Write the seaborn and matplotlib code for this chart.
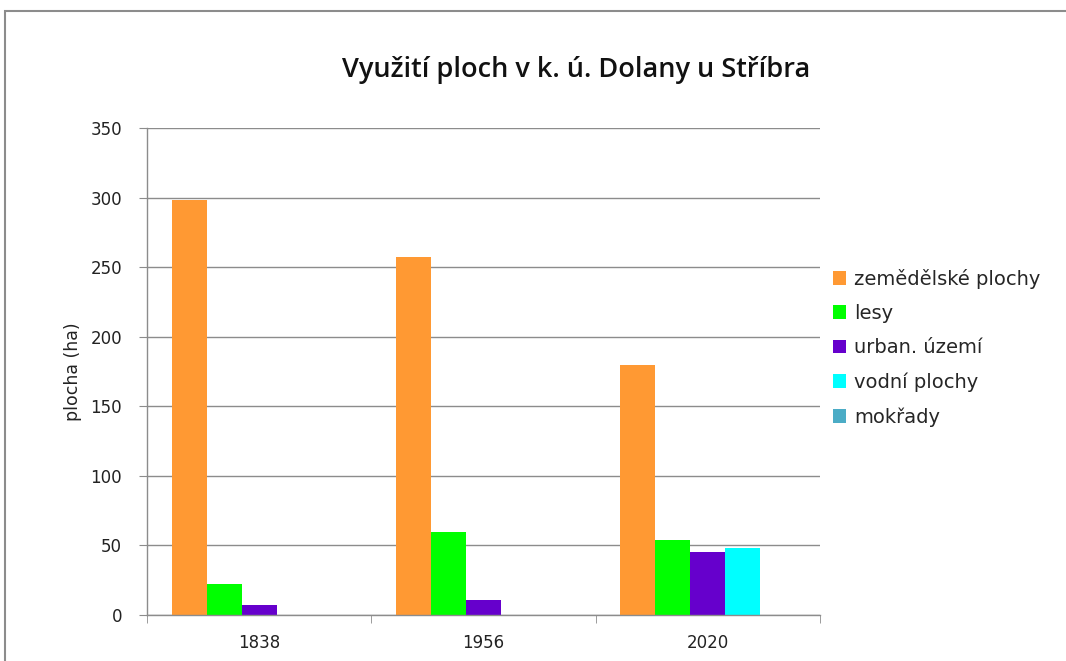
import matplotlib
matplotlib.use("Agg")
import matplotlib.pyplot as plt
import matplotlib.patches as mpatches
import seaborn as sns
import pandas as pd

# values
years = ["1838", "1956", "2020"]
categories = ["zemědělské plochy", "lesy", "urban. území", "vodní plochy", "mokřady"]
zemedelske = [298, 257, 180]
lesy = [22, 60, 54]
urban = [7, 11, 45]
vodni = [0, 0, 48]
mokrady = [0, 0, 0]
colors = ["#FF9933", "#00FF00", "#6600CC", "#00FFFF", "#4BACC6"]

series = [zemedelske, lesy, urban, vodni, mokrady]
rows = []
for cat, vals in zip(categories, series):
    for year, v in zip(years, vals):
        rows.append({"rok": year, "typ": cat, "plocha": v})
df = pd.DataFrame(rows)

sns.set_style("white")
plt.rcParams["font.family"] = ["DejaVu Sans"]

fig = plt.figure(figsize=(10.66, 6.61), dpi=100)
ax = fig.add_axes([0.1379, 0.0696, 0.6311, 0.7368])

sns.barplot(data=df, x="rok", y="plocha", hue="typ", hue_order=categories,
            palette=colors, width=0.78, saturation=1, linewidth=0,
            ax=ax, legend=False)

ax.set_ylim(0, 350)
ax.set_xlim(-0.5, 2.5)
ax.set_yticks(range(0, 351, 50))
ax.yaxis.grid(True, color="#8c8c8c", linewidth=1)
ax.set_axisbelow(True)
ax.set_xlabel("")
ax.set_ylabel("plocha (ha)", fontsize=12.5, color="#222222", labelpad=6)

for s in ["top", "right"]:
    ax.spines[s].set_visible(False)
for s in ["left", "bottom"]:
    ax.spines[s].set_color("#8c8c8c")
    ax.spines[s].set_linewidth(1)

ax.tick_params(axis="y", which="major", length=6, color="#8c8c8c", labelsize=12,
               labelcolor="#222222", left=True, pad=12)
ax.tick_params(axis="x", which="major", length=0, labelsize=12,
               labelcolor="#222222", pad=14)
ax.set_xticks([-0.5, 0.5, 1.5, 2.5], minor=True)
ax.tick_params(axis="x", which="minor", length=6, color="#8c8c8c", bottom=True)

handles = [mpatches.Patch(facecolor=c, edgecolor="none") for c in colors]
fig.legend(handles, categories, loc="upper left", bbox_to_anchor=(0.774, 0.605),
           frameon=False, fontsize=14, handlelength=0.7, handleheight=0.7,
           handletextpad=0.4, labelspacing=0.78, borderaxespad=0)

fig.suptitle("Využití ploch v k. ú. Dolany u Stříbra", x=0.54, y=0.894, va="center",
             fontsize=19.5, fontweight="semibold", family=["Open Sans", "DejaVu Sans"],
             color="#111111")

# outer chart frame (cropped at right and bottom in the reference)
frame = mpatches.Rectangle((0.005, -0.05), 1.2, 1.0334,
                           transform=fig.transFigure, fill=False,
                           edgecolor="#8c8c8c", linewidth=1.5)
fig.patches.append(frame)

fig.savefig("out.png", dpi=100)
